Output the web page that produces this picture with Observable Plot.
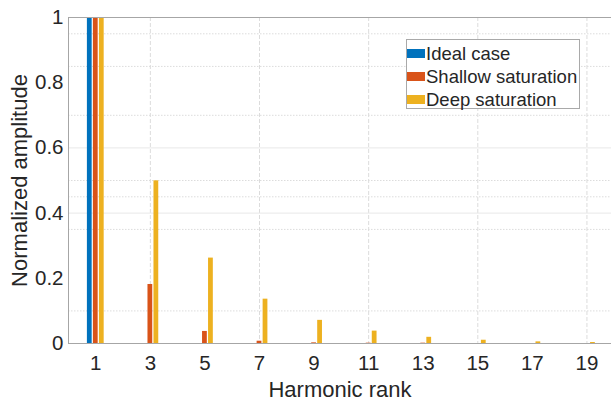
<!DOCTYPE html>
<html><head><meta charset="utf-8">
<script src="https://cdn.jsdelivr.net/npm/d3@7"></script>
<script src="https://cdn.jsdelivr.net/npm/@observablehq/plot@0.6"></script>
<style>
body{margin:0;background:#fff;font-family:"Liberation Sans",Arial,sans-serif;}
#chart{position:relative;width:611px;height:401px;overflow:hidden;}
#legend{position:absolute;left:406px;top:39px;width:174px;height:70px;border:1px solid #a9a9a9;background:#fff;padding-top:2px;box-sizing:border-box;}
.row{display:flex;align-items:center;height:23px;font-size:18.5px;color:#262626;white-space:nowrap;}
.sw{width:18px;height:9px;margin-right:1px;flex:none;}
</style></head><body><div id="chart"></div>
<script>
const harmonics = [1, 3, 5, 7, 9, 11, 13, 15, 17, 19];
const seriesNames = ["Ideal case", "Shallow saturation", "Deep saturation"];
const ideal   = [1, 0, 0, 0, 0, 0, 0, 0, 0, 0];
const shallow = [1, 0.181, 0.037, 0.007, 0.002, 0.001, 0.001, 0, 0, 0];
const deep    = [1, 0.499, 0.262, 0.136, 0.071, 0.038, 0.019, 0.010, 0.005, 0.003];
const seriesColors = ["#0072BD", "#D95319", "#EDB120"];
const yTicks = [0, 0.2, 0.4, 0.6, 0.8, 1];
const gridX = [3, 7, 11, 15, 19];
const gridYMajor = [0.4, 0.6];
const gridYMinor = [0.1, 0.35, 0.45, 0.5, 0.7, 0.85, 0.95];

const allSeries = [ideal, shallow, deep];
const rows = [];
allSeries.forEach((vals, si) => {
  vals.forEach((v, i) => rows.push({h: harmonics[i], value: v, series: seriesNames[si], si}));
});

const offset = 0.22, bw = 0.175;
const textColor = "#262626";
const axisGray = "#a6a6a6";
const fmt = d3.format("");

const plot = Plot.plot({
  width: 611,
  height: 401,
  marginLeft: 68,
  marginRight: 0,
  marginTop: 17,
  marginBottom: 58,
  style: {fontFamily: '"Liberation Sans", Arial, sans-serif', background: "#fff", overflow: "visible"},
  x: {domain: [0, 19.9], axis: null},
  y: {domain: [0, 1], axis: null},
  color: {domain: seriesNames, range: seriesColors},
  marks: [
    Plot.ruleX(gridX, {stroke: "#dcdcdc", strokeDasharray: "4,2", strokeWidth: 1}),
    Plot.ruleY(gridYMajor, {stroke: "#e8e8e8", strokeWidth: 1}),
    Plot.ruleY(gridYMinor, {stroke: "#dcdcdc", strokeDasharray: "1.5,1.5", strokeWidth: 1}),
    Plot.rectY(rows, {
      x1: d => d.h + (d.si - 1) * offset - bw / 2,
      x2: d => d.h + (d.si - 1) * offset + bw / 2,
      y1: 0,
      y2: "value",
      fill: "series"
    }),
    Plot.ruleX([0], {stroke: axisGray}),
    Plot.ruleY([1], {stroke: axisGray}),
    Plot.ruleY([0], {stroke: axisGray}),
    Plot.text(yTicks, {y: d => d, frameAnchor: "left", textAnchor: "end", lineAnchor: "middle", dx: -5, text: d => fmt(d), fontSize: 20.5, fill: textColor}),
    Plot.text(harmonics, {x: d => d, frameAnchor: "bottom", textAnchor: "middle", lineAnchor: "top", dy: 12, text: d => String(d), fontSize: 20.5, fill: textColor}),
    Plot.text(["Normalized amplitude"], {frameAnchor: "left", textAnchor: "middle", lineAnchor: "middle", rotate: -90, dx: -49, text: d => d, fontSize: 22, fill: textColor}),
    Plot.text(["Harmonic rank"], {frameAnchor: "bottom", textAnchor: "middle", lineAnchor: "middle", dy: 46, text: d => d, fontSize: 22, fill: textColor})
  ]
});

const chart = document.getElementById("chart");
chart.appendChild(plot);

const legend = document.createElement("div");
legend.id = "legend";
seriesNames.forEach((name, i) => {
  const r = document.createElement("div");
  r.className = "row";
  const sw = document.createElement("span");
  sw.className = "sw";
  sw.style.background = seriesColors[i];
  const t = document.createElement("span");
  t.textContent = name;
  r.appendChild(sw);
  r.appendChild(t);
  legend.appendChild(r);
});
chart.appendChild(legend);
</script>
</body></html>
